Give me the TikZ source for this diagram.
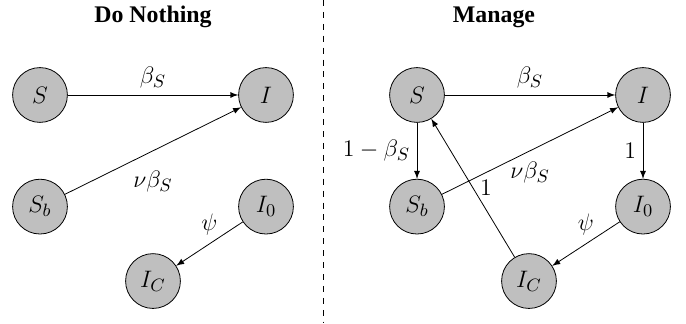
\documentclass[tikz,border=0pt]{standalone}
\usepackage{amsmath}
\usepackage{fontspec}
\newfontfamily\titlefont{Liberation Serif}
\tikzset{
  state/.style={circle,draw,fill=gray!50,minimum size=0.97cm,inner sep=0pt},
  trans/.style={-latex},
  heading/.style={font=\titlefont\bfseries\fontsize{12}{14}\selectfont}
}

\begin{document}
\begin{tikzpicture}[font=\fontsize{12.5}{15}\selectfont]
    \useasboundingbox (0,0) rectangle (12.142,5.717);
    \node[heading] (dtitle) at (2.708,5.416) {Do Nothing};
    \node[state] (dS) at (0.708,4.036) {$S$};
    \node[state] (dI) at (4.708,4.036) {$I$};
    \node[state] (dSb) at (0.708,2.06) {$S_b$};
    \node[state] (dI0) at (4.708,2.06) {$I_0$};
    \node[state] (dIC) at (2.708,0.743) {$I_C$};
    \draw[trans] (dS) -- node[above] {$\beta_S$} (dI);
    \draw[trans] (dSb) -- node[below=6.5pt] {$\nu\beta_S$} (dI);
    \draw[trans] (dI0) -- node[above=1pt] {$\psi$} (dIC);

    \coordinate (top) at (5.717,5.717);
    \coordinate (bot) at (5.717,0);
    \draw[dashed] (top) -- (bot);

    \node[heading] (mtitle) at (8.744,5.416) {Manage};
    \node[state] (mS) at (7.381,4.036) {$S$};
    \node[state] (mI) at (11.381,4.036) {$I$};
    \node[state] (mSb) at (7.381,2.06) {$S_b$};
    \node[state] (mI0) at (11.381,2.06) {$I_0$};
    \node[state] (mIC) at (9.363,0.743) {$I_C$};
    \draw[trans] (mS) -- node[above] {$\beta_S$} (mI);
    \draw[trans] (mS) -- node[left] {$1-\beta_S$} (mSb);
    \draw[trans] (mSb) -- node[below=2pt] {$\nu\beta_S$} (mI);
    \draw[trans] (mI) -- node[left] {$1$} (mI0);
    \draw[trans] (mI0) -- node[above=1pt] {$\psi$} (mIC);
    \draw[trans] (mIC) -- node[right] {$1$} (mS);
\end{tikzpicture}
\end{document}
